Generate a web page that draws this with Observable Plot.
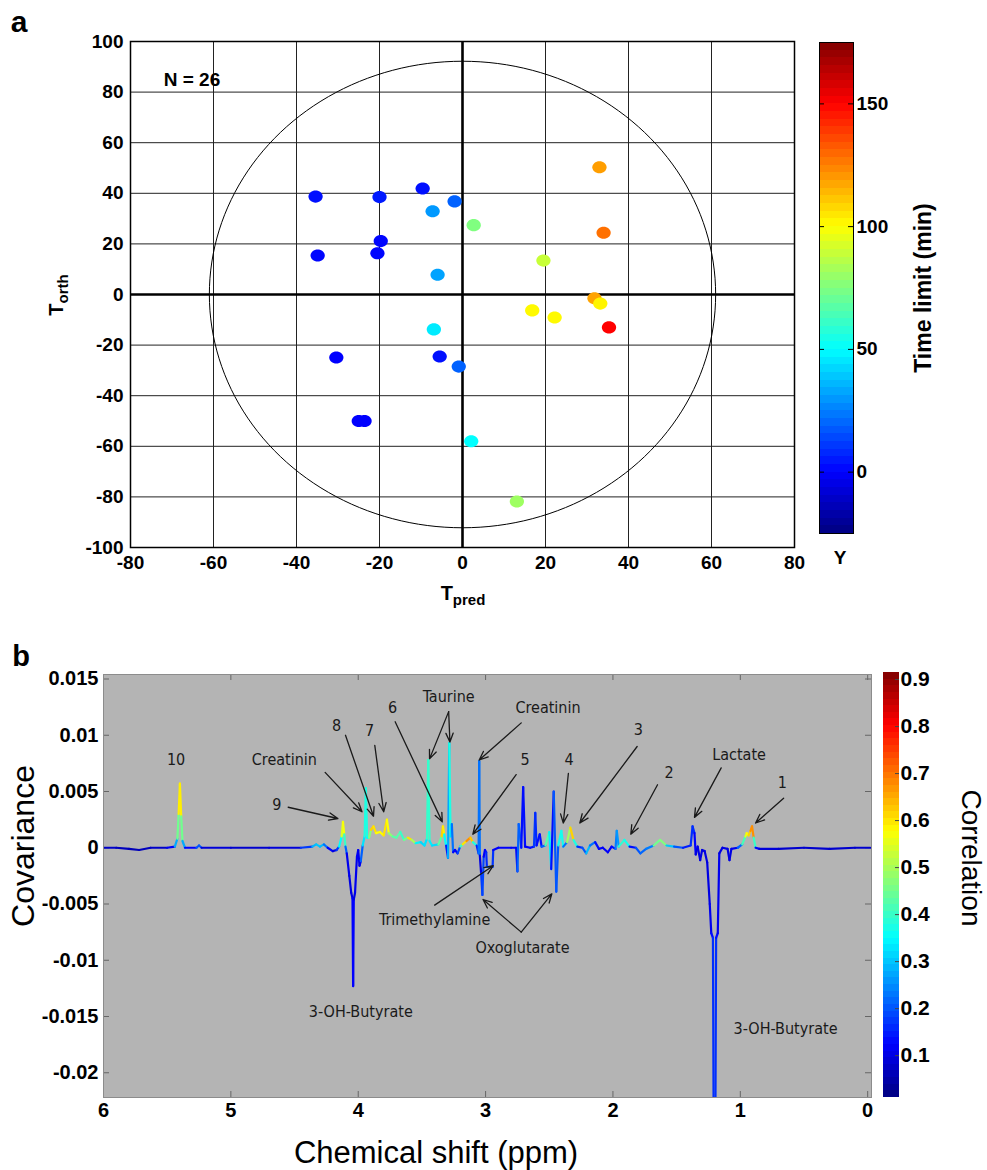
<!DOCTYPE html>
<html><head><meta charset="utf-8">
<script src="https://cdn.jsdelivr.net/npm/d3@7"></script>
<script src="https://cdn.jsdelivr.net/npm/@observablehq/plot@0.6"></script>
<style>
body{margin:0;background:#fff;}
#wrap{position:relative;width:987px;height:1170px;overflow:hidden;font-family:"Liberation Sans",Arial,sans-serif;color:#000;}
#wrap svg{position:absolute;overflow:visible;}
.lbl{position:absolute;white-space:nowrap;line-height:1;}
</style></head><body><div id="wrap"></div>
<script>
// ---------- Panel a data ----------
const tPred = [-35.4,-20,-9.6,-7.2,-1.9,2.7,-19.7,-34.9,-20.5,-6,33,34,19.5,31.8,33.2,16.8,22.2,35.3,-6.9,-5.5,-0.9,2.1,13.1,-30.4,-25,-23.6];
const tOrth = [38.7,38.5,41.9,32.9,36.8,27.4,21.1,15.4,16.3,7.8,50.3,24.4,13.4,-1.5,-3.6,-6.3,-9.1,-13,-13.8,-24.5,-28.5,-58,-81.8,-24.9,-50,-50];
const timeLimit = [3,5,3,30,19,75,1,1,1,32,119,128,89,118,102,101,101,150,46,3,19,50,81,0,0,0];
const xTicksA = [-80,-60,-40,-20,0,20,40,60,80];
const yTicksA = [-100,-80,-60,-40,-20,0,20,40,60,80,100];
const ellipseRadii = [61, 92.2];
const timeDomain = [-25, 175];
const timeTicks = [0, 50, 100, 150];
const noteA = [{x: -72, y: 85, text: "N = 26"}];

// ---------- Panel b data: [chemical shift ppm, covariance, correlation] ----------
const spectrum = [
[6.00,0.0000,0.08],[5.90,0.0000,0.07],[5.80,-0.0001,0.06],[5.72,-0.0002,0.06],[5.63,0.0000,0.07],
[5.50,0.0000,0.08],[5.44,0.0001,0.15],[5.42,0.0008,0.40],[5.41,0.0030,0.50],[5.40,0.0057,0.68],
[5.39,0.0028,0.50],[5.38,0.0006,0.40],[5.36,0.0000,0.15],[5.27,0.0000,0.10],[5.25,0.0002,0.30],
[5.23,0.0000,0.10],[5.00,0.0000,0.08],[4.70,0.0000,0.08],[4.45,0.0000,0.10],[4.36,0.0001,0.25],
[4.33,0.0003,0.32],[4.30,0.0001,0.28],[4.27,0.0003,0.30],[4.24,0.0000,0.15],[4.20,-0.0003,0.10],
[4.17,-0.0002,0.10],[4.15,0.0001,0.25],[4.13,0.0010,0.45],[4.12,0.0023,0.64],[4.11,0.0012,0.50],
[4.10,0.0001,0.30],[4.09,-0.0005,0.12],[4.07,-0.0025,0.10],[4.055,-0.0040,0.10],[4.045,-0.0045,0.10],
[4.04,-0.0123,0.15],[4.035,-0.0046,0.10],[4.025,-0.0040,0.10],[4.01,-0.0008,0.12],[4.00,-0.0002,0.12],
[3.99,-0.0016,0.10],[3.98,-0.0012,0.12],[3.965,0.0002,0.30],[3.95,0.0010,0.35],[3.94,0.0053,0.40],
[3.93,0.0009,0.35],[3.915,0.0009,0.35],[3.90,0.0016,0.58],[3.88,0.0019,0.65],[3.86,0.0013,0.55],
[3.83,0.0014,0.60],[3.80,0.0011,0.55],[3.775,0.0025,0.65],[3.76,0.0013,0.50],[3.73,0.0010,0.45],
[3.70,0.0009,0.40],[3.67,0.0014,0.45],[3.64,0.0007,0.35],[3.61,0.0009,0.55],[3.58,0.0007,0.65],
[3.55,0.0004,0.35],[3.51,0.0005,0.33],[3.48,0.0002,0.30],[3.46,0.0008,0.35],[3.45,0.0078,0.44],
[3.44,0.0006,0.35],[3.42,0.0002,0.32],[3.37,0.0003,0.32],[3.345,0.0010,0.55],[3.335,0.0019,0.68],
[3.325,0.0012,0.50],[3.31,0.0002,0.20],[3.295,-0.0009,0.10],[3.285,0.0093,0.45],[3.275,0.0010,0.30],
[3.265,0.0021,0.33],[3.255,-0.0004,0.12],[3.24,-0.0002,0.12],[3.22,-0.0005,0.12],[3.20,0.0001,0.25],
[3.18,0.0003,0.55],[3.15,0.0006,0.65],[3.12,0.0009,0.70],[3.10,0.0005,0.55],[3.07,0.0002,0.20],
[3.055,-0.0005,0.10],[3.05,0.0077,0.35],[3.045,-0.0007,0.10],[3.035,-0.0023,0.10],[3.025,-0.0042,0.25],
[3.015,-0.0008,0.12],[3.005,-0.0002,0.12],[2.995,-0.0004,0.12],[2.99,-0.0017,0.20],[2.945,-0.0017,0.22],
[2.94,-0.0002,0.12],[2.90,0.0000,0.12],[2.80,0.0000,0.12],[2.76,0.0000,0.12],[2.75,-0.0021,0.12],
[2.74,0.0021,0.30],[2.72,0.0000,0.12],[2.705,0.0054,0.15],[2.69,0.0001,0.12],[2.65,0.0000,0.12],
[2.62,0.0001,0.15],[2.61,0.0031,0.20],[2.60,0.0002,0.12],[2.575,0.0012,0.15],[2.56,0.0001,0.12],
[2.53,0.0002,0.30],[2.50,0.0014,0.55],[2.485,-0.0019,0.12],[2.465,0.0050,0.15],[2.445,-0.0039,0.25],
[2.43,0.0002,0.15],[2.405,0.0015,0.58],[2.39,0.0001,0.15],[2.36,0.0005,0.30],[2.335,0.0018,0.68],
[2.31,0.0007,0.55],[2.28,0.0001,0.20],[2.24,0.0000,0.12],[2.21,-0.0005,0.28],[2.18,0.0002,0.30],
[2.14,0.0005,0.15],[2.11,-0.0001,0.12],[2.08,0.0000,0.12],[2.04,-0.0004,0.12],[2.01,0.0001,0.12],
[1.98,-0.0001,0.15],[1.97,0.0015,0.32],[1.955,0.0001,0.20],[1.91,0.0007,0.58],[1.87,0.0001,0.15],
[1.82,0.0000,0.12],[1.785,-0.0005,0.28],[1.74,-0.0001,0.15],[1.68,0.0002,0.32],[1.63,0.0007,0.58],
[1.58,0.0002,0.35],[1.52,0.0001,0.25],[1.45,0.0000,0.15],[1.39,0.0002,0.15],[1.375,0.0019,0.18],
[1.36,0.0013,0.15],[1.35,-0.0006,0.10],[1.335,0.0001,0.10],[1.315,-0.0011,0.10],[1.30,-0.0002,0.10],
[1.28,-0.0003,0.10],[1.26,-0.0013,0.10],[1.24,-0.0050,0.10],[1.228,-0.0076,0.12],[1.215,-0.0080,0.15],
[1.21,-0.0225,0.18],[1.195,-0.0225,0.18],[1.19,-0.0080,0.15],[1.177,-0.0076,0.12],[1.165,-0.0005,0.10],
[1.14,0.0000,0.10],[1.10,-0.0001,0.10],[1.085,-0.0011,0.10],[1.07,-0.0001,0.10],[1.02,0.0000,0.12],
[0.985,0.0003,0.30],[0.96,0.0010,0.52],[0.95,0.0013,0.58],[0.935,0.0011,0.58],[0.92,0.0015,0.65],
[0.908,0.0019,0.70],[0.895,0.0009,0.65],[0.88,0.0000,0.15],[0.85,-0.0001,0.10],[0.70,-0.0001,0.08],
[0.50,0.0000,0.08],[0.30,-0.0001,0.08],[0.10,0.0000,0.08],[-0.02,0.0000,0.08]
];
const xTicksB = [6,5,4,3,2,1,0];
const yTicksB = [0.015,0.01,0.005,0,-0.005,-0.01,-0.015,-0.02];
const covDomain = [-0.0222, 0.0154];
const corrDomain = [0.011, 0.915];
const corrTicks = [0.1,0.2,0.3,0.4,0.5,0.6,0.7,0.8,0.9];
const labelsB = [
 {text:"10", x:5.43, y:0.0078},
 {text:"Creatinin", x:4.58, y:0.0078},
 {text:"9", x:4.64, y:0.0038},
 {text:"8", x:4.17, y:0.0108},
 {text:"7", x:3.91, y:0.0104},
 {text:"6", x:3.73, y:0.0124},
 {text:"Taurine", x:3.29, y:0.0134},
 {text:"Creatinin", x:2.51, y:0.0124},
 {text:"5", x:2.69, y:0.0078},
 {text:"4", x:2.345, y:0.0078},
 {text:"3", x:1.80, y:0.0105},
 {text:"2", x:1.56, y:0.0067},
 {text:"Lactate", x:1.01, y:0.0083},
 {text:"1", x:0.67, y:0.0058},
 {text:"Trimethylamine", x:3.40, y:-0.0064},
 {text:"Oxoglutarate", x:2.71, y:-0.0089},
 {text:"3-OH-Butyrate", x:3.98, y:-0.0146},
 {text:"3-OH-Butyrate", x:0.645, y:-0.0161}
];
const arrowsB = [
 [4.26,0.0067,3.97,0.0032],[4.55,0.0036,4.16,0.0026],[4.10,0.0100,3.88,0.0028],
 [3.87,0.0091,3.80,0.0032],[3.71,0.0112,3.34,0.0023],[3.29,0.0121,3.44,0.0079],
 [3.29,0.0121,3.28,0.0094],[2.72,0.0111,3.05,0.0078],[2.76,0.0065,3.10,0.0012],
 [2.35,0.0066,2.39,0.0022],[1.81,0.0090,2.26,0.0022],[1.65,0.0056,1.86,0.0012],
 [1.15,0.0071,1.36,0.0027],[0.66,0.0044,0.88,0.0022],[3.40,-0.0051,2.94,-0.0016],
 [2.72,-0.0075,3.02,-0.0046],[2.72,-0.0075,2.48,-0.0041]
];

// ---------- helpers ----------
const jet = d3.scaleLinear().domain([0,0.125,0.375,0.625,0.875,1])
  .range(["#000080","#0000ff","#00ffff","#ffff00","#ff0000","#800000"])
  .interpolate(d3.interpolateRgb).clamp(true);
const jetTime = v => jet((v - timeDomain[0]) / (timeDomain[1] - timeDomain[0]));
const jetCorr = v => jet((v - corrDomain[0]) / (corrDomain[1] - corrDomain[0]));
const F = '"Liberation Sans", Arial, sans-serif';
const NARROW = '"Liberation Sans Narrow", "Arial Narrow", "DejaVu Sans Condensed", sans-serif';
const wrap = document.getElementById("wrap");
function place(el, left, top) { el.style.left = left + "px"; el.style.top = top + "px"; wrap.appendChild(el); }
function label(html, cx, cy, css, rot) {
  const d = document.createElement("div");
  d.className = "lbl"; d.innerHTML = html;
  Object.assign(d.style, css);
  d.style.left = cx + "px"; d.style.top = cy + "px";
  d.style.transform = "translate(-50%,-50%)" + (rot ? ` rotate(${rot}deg)` : "");
  wrap.appendChild(d);
}
const ellipseSymbol = {draw(ctx, size) {
  const r = Math.sqrt(size / Math.PI), rx = r * 1.08, ry = r * 0.92, k = 0.5523;
  ctx.moveTo(rx, 0);
  ctx.bezierCurveTo(rx, ry * k, rx * k, ry, 0, ry);
  ctx.bezierCurveTo(-rx * k, ry, -rx, ry * k, -rx, 0);
  ctx.bezierCurveTo(-rx, -ry * k, -rx * k, -ry, 0, -ry);
  ctx.bezierCurveTo(rx * k, -ry, rx, -ry * k, rx, 0);
  ctx.closePath();
}};

// ---------- Panel a ----------
const scatter = tPred.map((x, i) => ({x, y: tOrth[i], t: timeLimit[i]}));
const ellipsePts = d3.range(0, 361, 2).map(a => ({x: ellipseRadii[0] * Math.cos(a * Math.PI / 180), y: ellipseRadii[1] * Math.sin(a * Math.PI / 180)}));
const plotA = Plot.plot({
  width: 800, height: 600, marginLeft: 130, marginRight: 6, marginTop: 41, marginBottom: 53,
  style: {fontFamily: F, fontSize: "19px", fontWeight: "bold", background: "transparent", color: "#000"},
  x: {domain: [-80, 80]}, y: {domain: [-100, 100]},
  marks: [
    Plot.gridX(xTicksA, {stroke: "#222", strokeOpacity: 1, strokeWidth: 1}),
    Plot.gridY(yTicksA, {stroke: "#222", strokeOpacity: 1, strokeWidth: 1}),
    Plot.ruleX([0], {stroke: "#000", strokeWidth: 2.6}),
    Plot.ruleY([0], {stroke: "#000", strokeWidth: 2.6}),
    Plot.line(ellipsePts, {x: "x", y: "y", stroke: "#000", strokeWidth: 1}),
    Plot.dot(scatter, {x: "x", y: "y", r: 6.6, symbol: ellipseSymbol, fill: d => jetTime(d.t), stroke: null}),
    Plot.text(noteA, {x: "x", y: "y", text: "text", textAnchor: "start", fontSize: 19, fontWeight: "bold", fill: "#000"}),
    Plot.axisX(xTicksA, {tickSize: 0, tickPadding: 8, label: null, tickFormat: d => String(d), fill: "#000"}),
    Plot.axisY(yTicksA, {tickSize: 0, tickPadding: 7, label: null, tickFormat: d => String(d), fill: "#000"}),
    Plot.frame({stroke: "#000", strokeWidth: 1.5})
  ]
});
place(plotA, 0, 0);

// colorbar a
const stepA = (timeDomain[1] - timeDomain[0]) / 64;
const bandsA = d3.range(64).map(i => ({y1: timeDomain[0] + i * stepA, y2: timeDomain[0] + (i + 1) * stepA, c: jetTime(timeDomain[0] + (i + 0.5) * stepA)}));
const cbA = Plot.plot({
  width: 187, height: 600, marginLeft: 19, marginRight: 134, marginTop: 42, marginBottom: 67,
  style: {fontFamily: F, fontSize: "19px", fontWeight: "bold", background: "transparent", color: "#000"},
  x: {domain: [0, 1], axis: null}, y: {domain: timeDomain, axis: null},
  marks: [
    Plot.rect(bandsA, {x1: 0, x2: 1, y1: "y1", y2: "y2", fill: "c", shapeRendering: "crispEdges"}),
    Plot.ruleY(timeTicks, {stroke: "#000", insetRight: 29}),
    Plot.ruleY(timeTicks, {stroke: "#000", insetLeft: 29}),
    Plot.axisY(timeTicks, {anchor: "right", tickSize: 0, tickPadding: 3, label: null, fill: "#000"}),
    Plot.frame({stroke: "#000", strokeWidth: 1})
  ]
});
place(cbA, 800, 0);

// ---------- Panel b ----------
const segments = spectrum.slice(1).map((p, i) => {
  const q = spectrum[i];
  return {x1: q[0], y1: q[1], x2: p[0], y2: p[1], c: (q[2] + p[2]) / 2};
});
const arrowData = arrowsB.map(a => ({x1: a[0], y1: a[1], x2: a[2], y2: a[3]}));
const plotB = Plot.plot({
  width: 880, height: 490, marginLeft: 103, marginRight: 9, marginTop: 34, marginBottom: 33,
  style: {fontFamily: F, fontSize: "20px", fontWeight: "bold", background: "transparent", color: "#000"},
  x: {domain: [6, -0.03]}, y: {domain: covDomain},
  marks: [
    Plot.frame({fill: "#b4b4b4", stroke: null}),
    Plot.ruleX(xTicksB, {stroke: "#666", insetBottom: 417}),
    Plot.ruleX(xTicksB, {stroke: "#666", insetTop: 417}),
    Plot.ruleY(yTicksB, {stroke: "#666", insetRight: 762}),
    Plot.ruleY(yTicksB, {stroke: "#666", insetLeft: 762}),
    Plot.link(segments, {x1: "x1", y1: "y1", x2: "x2", y2: "y2", stroke: d => jetCorr(d.c), strokeWidth: 2.2, strokeLinecap: "round", clip: true}),
    Plot.arrow(arrowData, {x1: "x1", y1: "y1", x2: "x2", y2: "y2", stroke: "#1a1a1a", strokeWidth: 1.3, headLength: 11, headAngle: 45}),
    Plot.text(labelsB, {x: "x", y: "y", text: "text", fontFamily: NARROW, fontSize: 16, fontWeight: "normal", fill: "#1a1a1a"}),
    Plot.axisX(xTicksB, {tickSize: 0, tickPadding: 5, label: null, tickFormat: d => String(d), fill: "#000"}),
    Plot.axisY(yTicksB, {tickSize: 0, tickPadding: 5, label: null, tickFormat: d => String(d), fill: "#000"}),
    Plot.frame({stroke: "#8c8c8c", strokeWidth: 1})
  ]
});
place(plotB, 0, 640);

// colorbar b
const stepB = (corrDomain[1] - corrDomain[0]) / 64;
const bandsB = d3.range(64).map(i => ({y1: corrDomain[0] + i * stepB, y2: corrDomain[0] + (i + 1) * stepB, c: jetCorr(corrDomain[0] + (i + 0.5) * stepB)}));
const cbB = Plot.plot({
  width: 116, height: 490, marginLeft: 12, marginRight: 88, marginTop: 32, marginBottom: 33,
  style: {fontFamily: F, fontSize: "21px", fontWeight: "bold", background: "transparent", color: "#000"},
  x: {domain: [0, 1], axis: null}, y: {domain: corrDomain, axis: null},
  marks: [
    Plot.rect(bandsB, {x1: 0, x2: 1, y1: "y1", y2: "y2", fill: "c", shapeRendering: "crispEdges"}),
    Plot.ruleY(corrTicks, {stroke: "#444", insetLeft: 12}),
    Plot.axisY(corrTicks, {anchor: "right", tickSize: 0, tickPadding: 1, label: null, tickFormat: d => d.toFixed(1), fill: "#000"})
  ]
});
place(cbB, 871, 640);

// ---------- text labels ----------
label("a", 19, 22, {fontSize: "30px", fontWeight: "bold"});
label("b", 21, 656, {fontSize: "29px", fontWeight: "bold"});
label('T<span style="font-size:15px;position:relative;top:5px">orth</span>', 56, 295, {fontSize: "20px", fontWeight: "bold"}, -90);
label('T<span style="font-size:15px;position:relative;top:5px">pred</span>', 463, 593, {fontSize: "20px", fontWeight: "bold"});
label("Time limit (min)", 923, 288, {fontSize: "23px", fontWeight: "bold"}, -90);
label("Y", 840, 557, {fontSize: "19px", fontWeight: "bold"});
label("Covariance", 23, 846, {fontSize: "32px"}, -90);
label("Correlation", 971, 858, {fontSize: "28px"}, 90);
label("Chemical shift (ppm)", 436, 1152, {fontSize: "31px"});
</script>
</body></html>
